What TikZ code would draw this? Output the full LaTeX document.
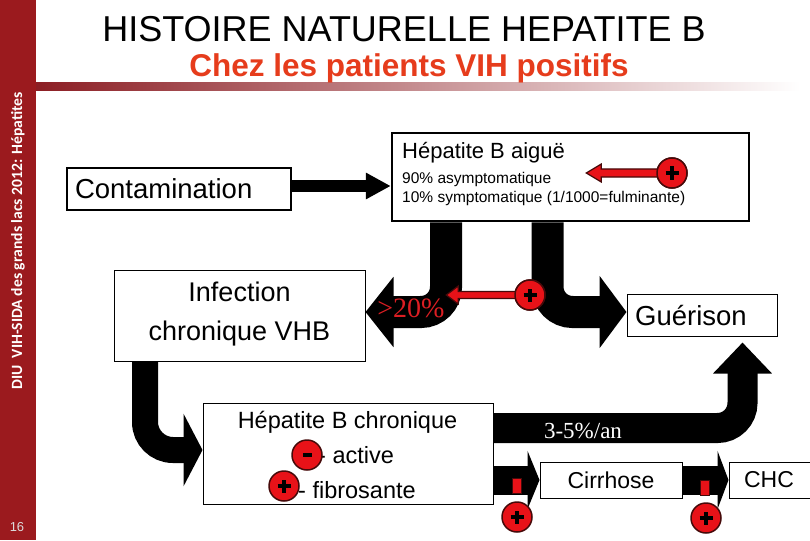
\documentclass[tikz,border=0pt]{standalone}
\usepackage{fontspec}
\setmainfont{Liberation Sans}
\newfontfamily\timesf{Liberation Serif}
\newfontfamily\sidef{Carlito}
\usetikzlibrary{arrows.meta,calc}
\definecolor{sidered}{RGB}{155,26,30}
\definecolor{barred}{RGB}{140,30,36}
\definecolor{subred}{RGB}{230,60,28}
\definecolor{discred}{RGB}{232,18,24}
\definecolor{discdark}{RGB}{70,10,10}
\definecolor{pctred}{RGB}{220,30,35}
\definecolor{pagegray}{RGB}{220,220,220}
\newcommand{\myfs}[1]{\fontsize{#1}{#1}\selectfont}
\tikzset{
  box/.style={draw=black, line width=1pt, fill=white, inner sep=0pt},
  thickbox/.style={box, line width=2.5pt},
  txt/.style={inner sep=0pt},
  bigarrow/.style={draw=black, line width=#1},
  disc/.style={circle, fill=discred, draw=discdark, line width=1.5pt, minimum size=30pt, inner sep=0pt},
  plusdisc/.style={disc, path picture={
      \draw[black, line width=3.5pt]
        ([xshift=-6.5pt]path picture bounding box.center) -- ([xshift=6.5pt]path picture bounding box.center)
        ([yshift=-6.5pt]path picture bounding box.center) -- ([yshift=6.5pt]path picture bounding box.center);}},
  minusdisc/.style={disc, path picture={
      \fill[black] ([xshift=-4.5pt,yshift=-2pt]path picture bounding box.center) rectangle ([xshift=4.5pt,yshift=2pt]path picture bounding box.center);}},
  redpoly/.style={fill=discred, draw=discdark, line width=1.2pt, line join=miter},
  redbar/.style={rectangle, fill=discred, draw=discdark, line width=1pt, minimum width=9pt, minimum height=15pt, inner sep=0pt}
}
\begin{document}
\begin{tikzpicture}[x=1pt,y=-1pt]
\useasboundingbox (0,0) rectangle (810,540);
\fill[white] (0,0) rectangle (810,540);
% sidebar
\fill[sidered] (0,0) rectangle (36,540);
\shade[left color=barred, right color=white] (36,83) rectangle (800,91);
\node[rotate=90, text=white, txt] (side) at (18,241)
  {\resizebox{297pt}{!}{\sidef\bfseries DIU\ \ VIH-SIDA des grands lacs 2012: Hépatites}};
\node[text=pagegray, font=\myfs{13}, txt] (pg) at (17,527) {16};
% titles
\node[anchor=base, font=\myfs{36}] (title) at (404,42) {HISTOIRE NATURELLE HEPATITE B};
\node[anchor=base, font=\myfs{31.5}\bfseries, text=subred] (sub) at (409,77) {Chez les patients VIH positifs};

% boxes
\node[thickbox, minimum width=224pt, minimum height=42pt, text width=208pt, align=left, font=\myfs{27.5}] (cont) at (179,189) {Contamination};
\node[thickbox, minimum width=357pt, minimum height=88pt] (aigue) at (570.5,177) {};
\node[box, minimum width=251pt, minimum height=91pt] (infect) at (239.5,315.5) {};
\node[box, minimum width=150pt, minimum height=42pt] (guer) at (702,315) {};
\node[box, minimum width=290pt, minimum height=101pt] (chron) at (348,453.5) {};
\node[box, minimum width=142pt, minimum height=36pt, font=\myfs{23}] (cirr) at (611,480) {Cirrhose};
\node[box, minimum width=86pt, minimum height=36pt] (chc) at (772,480) {};

% helper coordinates
\coordinate (a1s) at ([yshift=3pt]cont.east);
\coordinate (a1e) at (aigue.west |- a1s);
\coordinate (a2x) at (446,0);
\coordinate (a2e) at ([yshift=3.5pt]infect.east);
\coordinate (a3x) at (547.5,0);
\coordinate (a3e) at ([yshift=3pt]guer.west);
\coordinate (a4x) at (742.5,0);
\coordinate (a4y) at (0,428);
\coordinate (a7x) at (145,0);
\coordinate (a7y) at (0,450);

% big black arrows
\draw[bigarrow=12pt, -{Triangle[length=25pt,width=25pt]}] (a1s) -- (a1e);
\draw[bigarrow=32pt, rounded corners=25pt, -{Triangle[length=28pt,width=69pt]}]
  (aigue.south -| a2x) -- (a2x |- a2e) -- (a2e);
\draw[bigarrow=32pt, rounded corners=25pt, -{Triangle[length=27pt,width=71pt]}]
  (aigue.south -| a3x) -- (a3x |- a3e) -- (a3e);
\draw[bigarrow=30pt, rounded corners=25pt, -{Triangle[length=31pt,width=57pt]}, shorten >=6pt]
  (chron.east |- a4y) -- (a4x |- a4y) -- (guer.south -| a4x);
\draw[bigarrow=29pt, -{Triangle[length=12pt,width=58pt]}] (chron.east |- cirr.west) -- (cirr.west);
\draw[bigarrow=29pt, -{Triangle[length=11pt,width=58pt]}] (cirr.east) -- (chc.west);
\draw[bigarrow=26pt, rounded corners=28pt, -{Triangle[length=19pt,width=72pt]}]
  (infect.south -| a7x) -- (a7x |- a7y) -- (chron.west |- a7y);

% texts in boxes
\node[anchor=base west, font=\myfs{22}, txt] (t1) at (402,158) {Hépatite B aiguë};
\node[anchor=base west, font=\myfs{15.5}, txt] (t2) at (402,183) {90\% asymptomatique};
\node[anchor=base west, font=\myfs{15.5}, txt] (t3) at (402,202) {10\% symptomatique (1/1000=fulminante)};
\node[anchor=base, font=\myfs{27}, txt] (i1) at (239.5,301) {Infection};
\node[anchor=base, font=\myfs{27}, txt] (i2) at (239.5,340) {chronique VHB};
\node[anchor=base west, font=\myfs{27.5}, txt] (g1) at (635,325) {Guérison};
\node[anchor=base, font=\myfs{23.5}, txt] (c1) at (347.5,428) {Hépatite B chronique};
\node[anchor=base west, font=\myfs{23.5}, txt] (c2) at (318,463) {- active};
\node[anchor=base west, font=\myfs{23.5}, txt] (c3) at (298,498) {- fibrosante};
\node[font=\myfs{23}, txt] (h1) at (769,480) {CHC};

% labels on arrows
\node[anchor=base, font=\timesf\myfs{28}, text=pctred, txt] (pct) at (411,317) {>20\%};
\node[anchor=base, font=\timesf\myfs{23}, text=white, txt] (rate) at (583,438) {3-5\%/an};

% red markers
\node[plusdisc] (p1) at (672,173) {};
\node[plusdisc] (p2) at (530,295) {};
\filldraw[redpoly] (p1.west) ++(2,-4) -- ++(-57,0) -- ++(0,-5) -- ++(-15,9) -- ++(15,9) -- ++(0,-5) -- ++(57,0) -- cycle;
\filldraw[redpoly] (p2.west) ++(2,-3.5) -- ++(-58,0) -- ++(0,-5.5) -- ++(-12,9) -- ++(12,9) -- ++(0,-5.5) -- ++(58,0) -- cycle;
\node[plusdisc] at (p1) {};
\node[plusdisc] at (p2) {};
\node[redbar] (m1) at (516.5,485.5) {};
\node[redbar] (m2) at (704.5,487.5) {};
\node[plusdisc] (p3) at (517,517) {};
\node[plusdisc] (p4) at (706,518) {};
\node[minusdisc] (mc) at (307,455) {};
\node[plusdisc] (pc) at (284,486) {};
\end{tikzpicture}
\end{document}
